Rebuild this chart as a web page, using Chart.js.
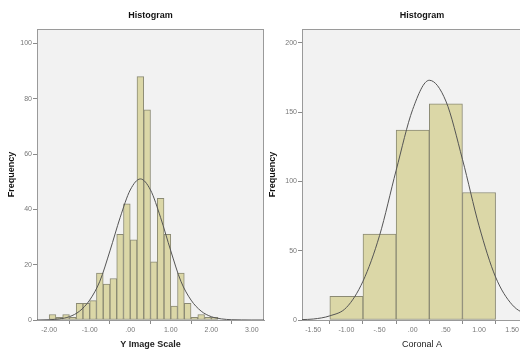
<!DOCTYPE html>
<html>
<head>
<meta charset="utf-8">
<script src="https://cdn.jsdelivr.net/npm/chart.js@4/dist/chart.umd.min.js"></script>
<style>
  html, body { margin: 0; padding: 0; background: #fff; overflow: hidden; width: 520px; height: 349px; }
  canvas { position: absolute; top: 0; }
  #leftChart { left: 0; }
  #rightChart { left: 262px; }
</style>
</head>
<body>
<canvas id="leftChart" width="268" height="349"></canvas>
<canvas id="rightChart" width="280" height="349"></canvas>
<script>
// left histogram: Y Image Scale (bin width 1/6)
const leftBinCenters = [-1.917, -1.750, -1.583, -1.417, -1.250, -1.083, -0.917, -0.750, -0.583, -0.417,
  -0.250, -0.083, 0.083, 0.250, 0.417, 0.583, 0.750, 0.917, 1.083, 1.250, 1.417, 1.583, 1.750, 1.917, 2.083];
const leftCounts = [2, 1, 2, 1, 6, 6, 7, 17, 13, 15, 31, 42, 29, 88, 76, 21, 44, 31, 5, 17, 6, 1, 2, 1, 1];
// normal curve
const leftCurveX = [-2.3, -2.0, -1.75, -1.5, -1.25, -1.0, -0.75, -0.5, -0.25, 0, 0.25, 0.5, 0.75, 1.0, 1.25, 1.5, 1.75, 2.0, 2.25, 2.5, 2.75, 3.0, 3.3];
const leftCurveY = [0, 0.1, 0.4, 1.2, 3.2, 7.2, 14, 25, 37, 47, 51, 47, 37, 25, 14, 7.2, 3.2, 1.2, 0.4, 0.1, 0.03, 0, 0];
const leftXTicks = [-2, -1, 0, 1, 2, 3];
const leftXLabels = ['-2.00', '-1.00', '.00', '1.00', '2.00', '3.00'];
const leftYTicks = [0, 20, 40, 60, 80, 100];

// right histogram: Coronal A (bin width 0.5)
const rightBinCenters = [-1.0, -0.5, 0, 0.5, 1.0];
const rightCounts = [17, 62, 137, 156, 92];
const rightCurveX = [-1.67, -1.5, -1.25, -1.0, -0.75, -0.5, -0.25, 0, 0.25, 0.5, 0.75, 1.0, 1.25, 1.5, 1.75, 1.95];
const rightCurveY = [0.3, 0.7, 3, 9, 28, 61, 108, 152, 173, 158, 116, 68, 31, 11, 3.5, 1.2];
const rightXTicks = [-1.5, -1, -0.5, 0, 0.5, 1, 1.5];
const rightXLabels = ['-1.50', '-1.00', '-.50', '.00', '.50', '1.00', '1.50'];
const rightYTicks = [0, 50, 100, 150, 200];

const FONT = "'Liberation Sans', Arial, sans-serif";

// grey plot background + frame, like SPSS
const plotFrame = {
  id: 'plotFrame',
  beforeDatasetsDraw(chart) {
    const { ctx, chartArea: a } = chart;
    ctx.save();
    ctx.fillStyle = '#f2f2f2';
    ctx.fillRect(a.left, a.top, a.right - a.left, a.bottom - a.top);
    ctx.strokeStyle = '#9a9a9a';
    ctx.lineWidth = 1;
    ctx.strokeRect(a.left + 0.5, a.top + 0.5, a.right - a.left - 1, a.bottom - a.top);
    ctx.restore();
  }
};

function makeHistogram(canvasId, cfg) {
  const ctx = document.getElementById(canvasId).getContext('2d');
  return new Chart(ctx, {
    type: 'bar',
    data: {
      datasets: [
        {
          type: 'line',
          data: cfg.curveX.map((x, i) => ({ x: x, y: cfg.curveY[i] })),
          borderColor: '#555',
          borderWidth: 1,
          pointRadius: 0,
          fill: false,
          cubicInterpolationMode: 'monotone',
          order: 0
        },
        {
          type: 'bar',
          data: cfg.centers.map((x, i) => ({ x: x, y: cfg.counts[i] })),
          backgroundColor: '#dbd7a7',
          borderColor: '#8b8a74',
          borderWidth: 1,
          borderSkipped: false,
          barPercentage: 1,
          categoryPercentage: 1,
          grouped: false,
          order: 1
        }
      ]
    },
    options: {
      responsive: false,
      animation: false,
      devicePixelRatio: 1,
      layout: { padding: { left: 0, right: cfg.padRight, top: 0, bottom: 0 } },
      plugins: {
        legend: { display: false },
        tooltip: { enabled: false },
        title: {
          display: true,
          text: 'Histogram',
          fullSize: false,
          color: '#111',
          font: { family: FONT, size: 9, weight: 'bold', lineHeight: 1 },
          padding: { top: 11, bottom: 9 }
        }
      },
      scales: {
        x: {
          type: 'linear',
          min: cfg.xMin,
          max: cfg.xMax,
          offset: false,
          afterBuildTicks: s => { s.ticks = cfg.xTicks.map(v => ({ value: v })); },
          afterFit: s => { s.height = 29; },
          border: { display: true, color: '#9a9a9a' },
          grid: { drawOnChartArea: false, drawTicks: true, tickLength: 4, color: '#8a8a8a' },
          ticks: {
            font: { family: FONT, size: 7 },
            color: '#777',
            padding: 2,
            maxRotation: 0,
            autoSkip: false,
            callback: (v, i) => cfg.xLabels[i]
          },
          title: {
            display: true,
            text: cfg.xTitle,
            color: '#222',
            font: { family: FONT, size: 9, weight: cfg.xTitleWeight, lineHeight: 1 },
            padding: { top: 0, bottom: -0.5 }
          }
        },
        y: {
          min: 0,
          max: cfg.yMax,
          afterBuildTicks: s => { s.ticks = cfg.yTicks.map(v => ({ value: v })); },
          afterFit: s => { s.width = cfg.yWidth; },
          border: { display: true, color: '#9a9a9a' },
          grid: { drawOnChartArea: false, drawTicks: true, tickLength: 4, color: '#8a8a8a' },
          ticks: {
            font: { family: FONT, size: 7 },
            color: '#777',
            padding: 1,
            autoSkip: false
          },
          title: {
            display: true,
            text: 'Frequency',
            color: '#111',
            font: { family: FONT, size: 9, weight: 'bold', lineHeight: 1 },
            padding: { top: cfg.yTitlePad, bottom: 0 }
          }
        }
      }
    },
    plugins: [plotFrame]
  });
}

makeHistogram('leftChart', {
  centers: leftBinCenters, counts: leftCounts,
  curveX: leftCurveX, curveY: leftCurveY,
  xTicks: leftXTicks, xLabels: leftXLabels, yTicks: leftYTicks,
  xMin: -2.3, xMax: 3.3, yMax: 105.2,
  xTitle: 'Y Image Scale', xTitleWeight: 'bold',
  yWidth: 37, yTitlePad: 7.5, padRight: 4
});

makeHistogram('rightChart', {
  centers: rightBinCenters, counts: rightCounts,
  curveX: rightCurveX, curveY: rightCurveY,
  xTicks: rightXTicks, xLabels: rightXLabels, yTicks: rightYTicks,
  xMin: -1.67, xMax: 1.95, yMax: 210,
  xTitle: 'Coronal A', xTitleWeight: 'normal',
  yWidth: 40, yTitlePad: 6.5, padRight: 0
});
</script>
</body>
</html>
